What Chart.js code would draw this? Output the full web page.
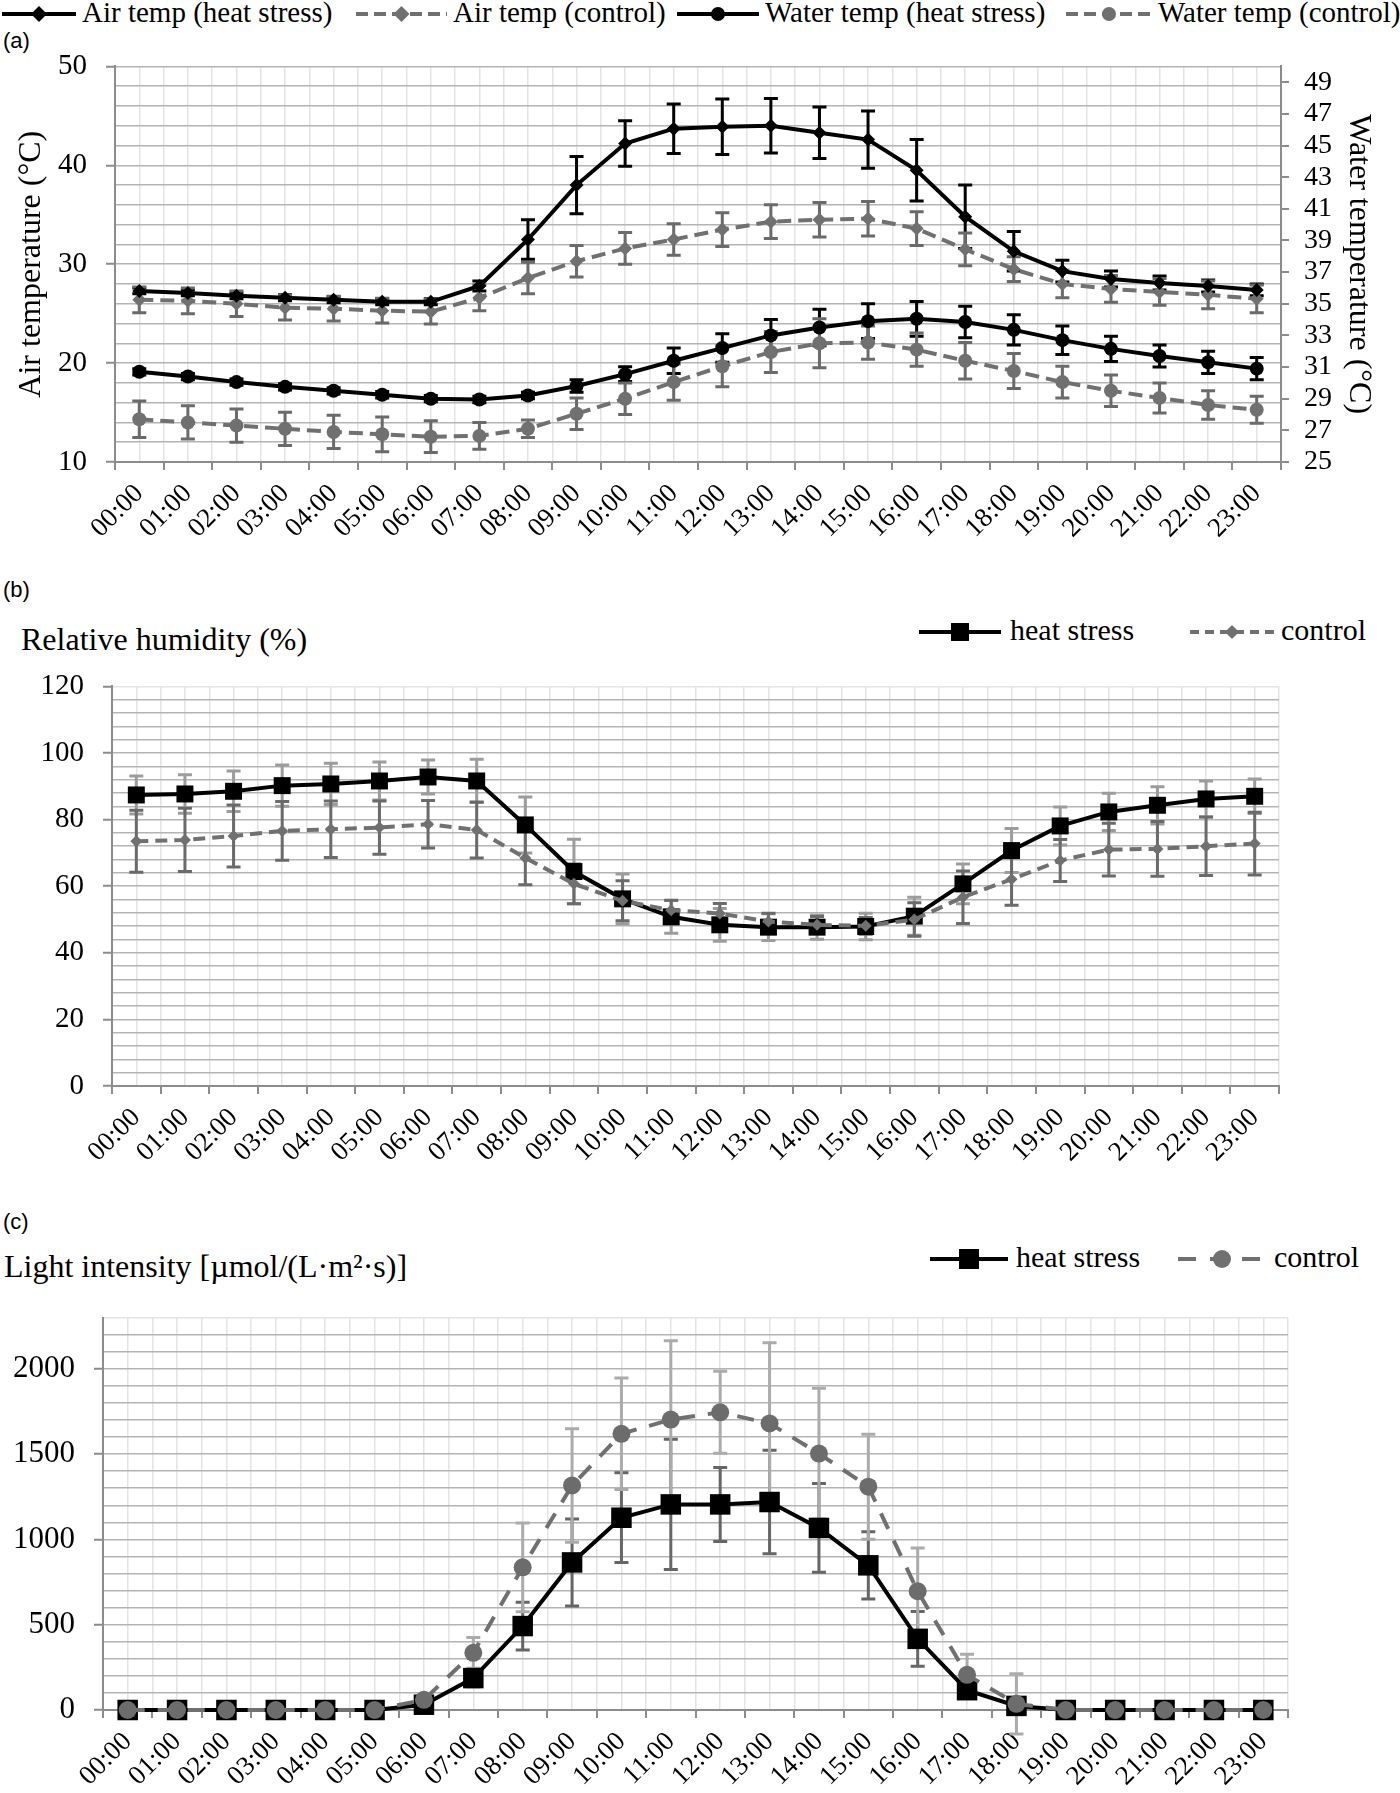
<!DOCTYPE html>
<html>
<head>
<meta charset="utf-8">
<script src="https://cdn.jsdelivr.net/npm/chart.js@4.4.1/dist/chart.umd.min.js"></script>
<style>
  body { margin: 0; width: 1400px; height: 1793px; position: relative; background: #fff; overflow: hidden;
         font-family: 'Liberation Serif', 'Times New Roman', serif; color: #000; }
  .abs { position: absolute; white-space: nowrap; line-height: 1; }
  .tag { font-family: 'Liberation Sans', Arial, sans-serif; font-size: 22px; }
  .head { font-size: 32px; }
  canvas { position: absolute; left: 0; }
</style>
</head>
<body>
<div class="abs tag" style="left:3px;top:30px">(a)</div>
<div class="abs tag" style="left:3px;top:579px">(b)</div>
<div class="abs tag" style="left:3px;top:1211px">(c)</div>
<div class="abs head" style="left:21px;top:623px">Relative humidity (%)</div>
<div class="abs head" style="left:4px;top:1250px">Light intensity [µmol/(L·m²·s)]</div>

<canvas id="chart-a" width="1400" height="530" style="top:30px"></canvas>
<canvas id="chart-b" width="1400" height="560" style="top:650px"></canvas>
<canvas id="chart-c" width="1400" height="513" style="top:1280px"></canvas>

<script>
// ---- data ----
const hours = ['00:00', '01:00', '02:00', '03:00', '04:00', '05:00', '06:00', '07:00',
    '08:00', '09:00', '10:00', '11:00', '12:00', '13:00', '14:00', '15:00',
    '16:00', '17:00', '18:00', '19:00', '20:00', '21:00', '22:00', '23:00'];

// (a) air temperature, left axis
const airHeat = [27.3, 27.1, 26.8, 26.6, 26.4, 26.2, 26.2, 27.8, 32.5, 38.0, 42.2, 43.7,
    43.9, 44.0, 43.3, 42.6, 39.5, 34.8, 31.3, 29.3, 28.5, 28.1, 27.8, 27.4];
const airHeatErr = [0.3, 0.3, 0.3, 0.3, 0.3, 0.3, 0.3, 0.5, 2.0, 2.9, 2.3, 2.5,
    2.8, 2.75, 2.6, 2.9, 3.1, 3.2, 2.0, 1.1, 0.8, 0.7, 0.6, 0.6];
const airCtrl = [26.4, 26.3, 26.0, 25.6, 25.5, 25.3, 25.2, 26.6, 28.6, 30.3, 31.6, 32.5,
    33.5, 34.3, 34.5, 34.6, 33.6, 31.5, 29.5, 28.0, 27.5, 27.2, 26.9, 26.5];
const airCtrlErr = [1.3, 1.3, 1.3, 1.25, 1.25, 1.25, 1.25, 1.3, 1.6, 1.6, 1.6, 1.6,
    1.7, 1.7, 1.75, 1.75, 1.7, 1.65, 1.25, 1.4, 1.35, 1.35, 1.4, 1.4];

// (a) water temperature, right axis
const waterHeat = [30.7, 30.4, 30.05, 29.75, 29.5, 29.25, 29.0, 28.95, 29.2, 29.8, 30.55, 31.4,
    32.2, 33.0, 33.5, 33.9, 34.05, 33.85, 33.35, 32.7, 32.15, 31.7, 31.3, 30.9];
const waterHeatErr = [0.2, 0.2, 0.2, 0.2, 0.2, 0.2, 0.2, 0.2, 0.2, 0.4, 0.47, 0.8,
    0.9, 1.0, 1.15, 1.1, 1.1, 1.0, 0.95, 0.9, 0.8, 0.7, 0.7, 0.7];
const waterCtrl = [27.7, 27.5, 27.3, 27.1, 26.9, 26.75, 26.6, 26.65, 27.1, 28.05, 29.0, 30.05,
    31.05, 31.95, 32.5, 32.55, 32.1, 31.4, 30.75, 30.05, 29.5, 29.05, 28.6, 28.3];
const waterCtrlErr = [1.15, 1.05, 1.05, 1.05, 1.05, 1.1, 1.0, 0.85, 0.55, 1.0, 1.0, 1.15,
    1.3, 1.3, 1.55, 1.05, 1.05, 1.15, 1.1, 1.0, 1.0, 0.95, 0.9, 0.85];
const waterTicks = [25, 27, 29, 31, 33, 35, 37, 39, 41, 43, 45, 47, 49];

// (b) relative humidity
const rhHeat = [87.4, 87.7, 88.5, 90.2, 90.7, 91.6, 92.8, 91.6, 78.4, 64.4, 56.2, 50.8,
    48.4, 47.7, 47.7, 47.9, 51.0, 60.7, 70.7, 78.1, 82.3, 84.3, 86.2, 87.0];
const rhHeatErr = [5.7, 5.8, 6.1, 6.2, 6.2, 5.7, 5.1, 6.5, 8.4, 9.7, 7.5, 4.9,
    4.9, 4.0, 3.6, 4.0, 5.7, 6.0, 6.6, 5.7, 5.6, 5.6, 5.4, 5.2];
const rhCtrl = [73.5, 73.9, 75.1, 76.6, 77.1, 77.6, 78.6, 76.9, 68.5, 60.7, 55.6, 52.8,
    51.8, 49.4, 48.4, 48.1, 50.0, 56.7, 62.1, 67.7, 71.0, 71.2, 72.0, 72.8];
const rhCtrlErr = [9.3, 9.5, 9.3, 8.8, 8.5, 8.0, 7.1, 8.4, 8.1, 6.0, 6.0, 3.0,
    3.0, 2.5, 2.5, 2.5, 5.0, 7.9, 7.8, 6.3, 7.9, 8.2, 8.8, 9.4];

// (c) light intensity
const liHeat = [0, 0, 0, 0, 0, 0, 31, 187, 492, 865, 1127, 1205,
    1205, 1219, 1067, 848, 417, 116, 24, 0, 0, 0, 0, 0];
const liHeatErr = [0, 0, 0, 0, 0, 0, 10, 50, 140, 255, 263, 382,
    217, 303, 260, 197, 160, 40, 10, 0, 0, 0, 0, 0];
const liCtrl = [0, 0, 0, 0, 0, 0, 60, 335, 836, 1316, 1619, 1702,
    1745, 1680, 1503, 1309, 696, 206, 36, 0, 0, 0, 0, 0];
const liCtrlErr = [0, 0, 0, 0, 0, 0, 15, 90, 260, 333, 327, 463,
    240, 473, 383, 308, 254, 121, 177, 0, 0, 0, 0, 0];

// ---- styling ----
const BLACK = '#000000';
const GRAY = '#707070';
const AXIS = '#8c8c8c';
const HGRID = '#b4b4b4';
const VGRID = '#e4e4e4';
const SERIF = "'Liberation Serif', 'Times New Roman', serif";

Chart.defaults.font.family = SERIF;
Chart.defaults.color = '#000';

const serif = size => ({family: SERIF, size: size});

// vertical error bars, drawn under the lines
const errorBars = {
    id: 'errorBars',
    beforeDatasetsDraw(chart) {
        const ctx = chart.ctx;
        const xs = chart.scales.x;
        chart.data.datasets.forEach(ds => {
            if (!ds.err) return;
            const ys = chart.scales[ds.yAxisID || 'y'];
            const cap = 7;
            ctx.save();
            ctx.strokeStyle = ds.errColor;
            ctx.lineWidth = 3;
            ds.data.forEach((v, j) => {
                const e = ds.err[j];
                if (!e) return;
                const x = xs.getPixelForValue(j);
                const lo = ys.getPixelForValue(v - e);
                const hi = ys.getPixelForValue(v + e);
                ctx.beginPath();
                ctx.moveTo(x, lo); ctx.lineTo(x, hi);
                ctx.moveTo(x - cap, lo); ctx.lineTo(x + cap, lo);
                ctx.moveTo(x - cap, hi); ctx.lineTo(x + cap, hi);
                ctx.stroke();
            });
            ctx.restore();
        });
    }
};

function xScales(height) {
    return {
        x: {
            type: 'category',
            offset: true,
            grid: {offset: true, drawOnChartArea: false, color: AXIS, lineWidth: 2, tickLength: 8},
            border: {color: AXIS, width: 2},
            ticks: {minRotation: 45, maxRotation: 45, autoSkip: false, padding: 8, font: serif(27)},
            afterFit: s => { s.height = height; },
        },
        // half-category light vertical lines
        xg: {
            type: 'linear',
            position: 'bottom',
            min: 0,
            max: 48,
            ticks: {display: false, stepSize: 1, autoSkip: false},
            grid: {color: VGRID, lineWidth: 1.5, drawTicks: false},
            border: {display: false},
            afterFit: s => { s.height = 0; },
        },
    };
}

function leftScale(min, max, step, major, width, fontSize, lightTop, title) {
    return {
        position: 'left',
        min: min,
        max: max,
        ticks: {
            stepSize: step,
            autoSkip: false,
            padding: 19,
            font: serif(fontSize),
            callback: v => (v % major === 0 ? String(v) : ''),
        },
        grid: {
            lineWidth: 1.5,
            tickLength: 9,
            tickWidth: 2,
            color: c => (lightTop && c.tick && c.tick.value === max ? VGRID : HGRID),
            tickColor: c => (c.tick && c.tick.value % major === 0 ? AXIS : 'rgba(0,0,0,0)'),
        },
        border: {color: AXIS, width: 2},
        title: title || {display: false},
        afterFit: s => { s.width = width; },
    };
}

function lineSet(label, data, err, o) {
    return Object.assign({
        label: label,
        data: data,
        err: err,
        borderWidth: 4,
        tension: 0,
        clip: false,
        pointBorderWidth: 0,
    }, o);
}

const baseOptions = (padding, scales) => ({
    responsive: false,
    animation: false,
    events: [],
    layout: {padding: padding},
    plugins: {legend: {display: false}, tooltip: {enabled: false}},
    scales: scales,
});

// ---- (a) temperatures ----
new Chart(document.getElementById('chart-a'), {
    type: 'line',
    data: {
        labels: hours,
        datasets: [
            lineSet('Air temp (heat stress)', airHeat, airHeatErr, {
                borderColor: BLACK, errColor: BLACK,
                pointStyle: 'rectRot', pointRadius: 7, pointBackgroundColor: BLACK, order: 0,
            }),
            lineSet('Air temp (control)', airCtrl, airCtrlErr, {
                borderColor: GRAY, errColor: '#6a6a6a', borderDash: [14, 7],
                pointStyle: 'rectRot', pointRadius: 7, pointBackgroundColor: GRAY, order: 1,
            }),
            lineSet('Water temp (heat stress)', waterHeat, waterHeatErr, {
                yAxisID: 'y2', borderColor: BLACK, errColor: BLACK,
                pointStyle: 'circle', pointRadius: 7, pointBackgroundColor: BLACK, order: 2,
            }),
            lineSet('Water temp (control)', waterCtrl, waterCtrlErr, {
                yAxisID: 'y2', borderColor: GRAY, errColor: '#6a6a6a', borderDash: [14, 7],
                pointStyle: 'circle', pointRadius: 7, pointBackgroundColor: GRAY, order: 3,
            }),
        ],
    },
    options: baseOptions({top: 32, left: 0, right: 0, bottom: 0}, Object.assign(xScales(98), {
        y: leftScale(10, 50, 2, 10, 115, 29, false, {
            display: true, text: 'Air temperature (°C)', font: serif(32), padding: {top: 12},
        }),
        y2: {
            position: 'right',
            min: 25,
            max: 50,
            afterBuildTicks: s => { s.ticks = waterTicks.map(v => ({value: v})); },
            ticks: {autoSkip: false, padding: 15, font: serif(28)},
            grid: {drawOnChartArea: false, color: AXIS, lineWidth: 2, tickLength: 8},
            border: {color: AXIS, width: 2},
            title: {display: true, text: 'Water temperature (°C)', font: serif(32), padding: {top: 22}},
            afterFit: s => { s.width = 119; },
        },
    })),
    plugins: [errorBars],
});

// ---- (b) relative humidity ----
new Chart(document.getElementById('chart-b'), {
    type: 'line',
    data: {
        labels: hours,
        datasets: [
            lineSet('heat stress', rhHeat, rhHeatErr, {
                borderColor: BLACK, errColor: '#9c9c9c',
                pointStyle: 'rect', pointRadius: 12, pointBackgroundColor: BLACK, order: 1,
            }),
            lineSet('control', rhCtrl, rhCtrlErr, {
                borderColor: GRAY, errColor: '#6a6a6a', borderDash: [12, 7],
                pointStyle: 'rectRot', pointRadius: 6, pointBackgroundColor: GRAY, order: 0,
            }),
        ],
    },
    options: baseOptions({top: 29, left: 0, right: 121, bottom: 0}, Object.assign(xScales(124), {
        y: leftScale(0, 120, 4, 20, 112, 29, true),
    })),
    plugins: [errorBars],
});

// ---- (c) light intensity ----
new Chart(document.getElementById('chart-c'), {
    type: 'line',
    data: {
        labels: hours,
        datasets: [
            lineSet('heat stress', liHeat, liHeatErr, {
                borderColor: BLACK, errColor: '#666666',
                pointStyle: 'rect', pointRadius: 14.5, pointBackgroundColor: BLACK, order: 1,
            }),
            lineSet('control', liCtrl, liCtrlErr, {
                borderColor: GRAY, errColor: '#ababab', borderDash: [17, 13],
                pointStyle: 'circle', pointRadius: 9, pointBackgroundColor: '#6c6c6c', order: 0,
            }),
        ],
    },
    options: baseOptions({top: 31, left: 0, right: 112, bottom: 0}, Object.assign(xScales(83), {
        y: leftScale(0, 2300, 100, 500, 103, 31, true),
    })),
    plugins: [errorBars],
});

// ---- legends (line sample + marker, then text) ----
function marker(kind, cx, cy, r, color) {
    if (kind === 'diamond') {
        return `<polygon points="${cx - r},${cy} ${cx},${cy - r} ${cx + r},${cy} ${cx},${cy + r}" fill="${color}"/>`;
    }
    if (kind === 'square') {
        return `<rect x="${cx - r}" y="${cy - r}" width="${2 * r}" height="${2 * r}" fill="${color}"/>`;
    }
    return `<circle cx="${cx}" cy="${cy}" r="${r}" fill="${color}"/>`;
}

function legendItem(x0, x1, cy, color, dash, kind, r, text, textX, size) {
    const w = x1 - x0;
    const h = 30;
    const svg = document.createElementNS('http://www.w3.org/2000/svg', 'svg');
    svg.setAttribute('class', 'abs');
    svg.setAttribute('width', w);
    svg.setAttribute('height', h);
    svg.style.left = x0 + 'px';
    svg.style.top = (cy - h / 2) + 'px';
    svg.innerHTML = `<line x1="0" y1="${h / 2}" x2="${w}" y2="${h / 2}" stroke="${color}" stroke-width="4"` +
        (dash ? ` stroke-dasharray="${dash}"` : '') + '/>' + marker(kind, w / 2, h / 2, r, color);
    document.body.appendChild(svg);

    const t = document.createElement('div');
    t.className = 'abs';
    t.style.left = textX + 'px';
    t.style.top = (cy - size / 2 - 2) + 'px';
    t.style.fontSize = size + 'px';
    t.textContent = text;
    document.body.appendChild(t);
}

legendItem(2, 76, 14, BLACK, null, 'diamond', 8, 'Air temp (heat stress)', 82, 29);
legendItem(356, 447, 14, GRAY, '12 6', 'diamond', 8, 'Air temp (control)', 453, 29);
legendItem(677, 759, 14, BLACK, null, 'circle', 7, 'Water temp (heat stress)', 765, 29);
legendItem(1066, 1152, 14, GRAY, '12 6', 'circle', 7, 'Water temp (control)', 1158, 29);

legendItem(919, 1001, 632, BLACK, null, 'square', 9, 'heat stress', 1010, 30);
legendItem(1190, 1274, 632, GRAY, '9 6', 'diamond', 7, 'control', 1281, 30);

legendItem(930, 1008, 1259, BLACK, null, 'square', 10, 'heat stress', 1016, 30);
legendItem(1178, 1266, 1259, GRAY, '18 14', 'circle', 9, 'control', 1274, 30);
</script>
</body>
</html>
